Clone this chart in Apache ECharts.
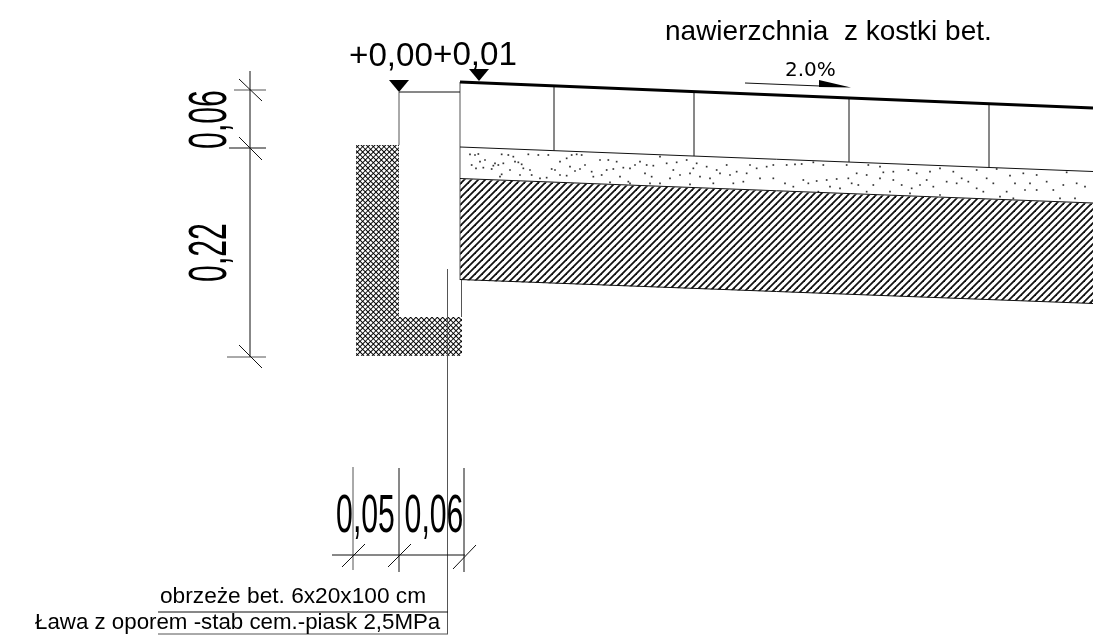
<!DOCTYPE html>
<html><head><meta charset="utf-8">
<script src="https://cdn.jsdelivr.net/npm/echarts@6/dist/echarts.min.js"></script>
<style>html,body{margin:0;padding:0;background:#fff}#c{width:1093px;height:636px}</style>
</head><body><div id="c"></div>
<script>
// drawing values, in drawing units
const thinSegments = [
  [399,92,460,92],[554,86,554,150.6],[694,92,694,156],[849,98,849,162],[989,104,989,167.5],
  [460,147,1093,171.5],[460,178.5,1093,203],[460,279.5,1093,303.5],
  [250,71,250,357],[229,148,266,148],[239,137,262,160],[239,79,262,101],[239,345,262,368],
  [332,555,465,555],[399,468,399,572],[464,468,464,572],
  [342,567,365,544],[388,567,411,544],[453,569,476,545],
  [158,612,448,612],[745,83,820,86]
];
const graySegments = [
  [399,92,399,145],[460,82,460,280],[461.5,280,461.5,317],[447.5,269,447.5,634],
  [353,467,353,570],[234,90,266,90],[227,357,266,357],[158,634,448,634]
];
const surfaceLine = [[460,82,1093,108]];
const triangles = [
  [[389,80],[409,80],[399,92]],
  [[469,69],[489,69],[479,81]],
  [[819,80],[851,87.5],[819,87]]
];
const concreteOutline = [[356,145],[399,145],[399,317],[462,317],[462,356],[356,356]];
const gravelBand = [[460,179],[1093,203.5],[1093,303.5],[460,280]];

const plainTexts = ['nawierzchnia  z kostki bet.','+0,00','+0,01','obrzeże bet. 6x20x100 cm','Ława z oporem -stab cem.-piask 2,5MPa'];
const plainTextAt = [[665,32],[349,57],[433,56],[160,597],[35,623]];
const plainTextSize = [28,33.2,33.2,22.7,22.3];
const slopeText = ['2.0%'];
const slopeTextAt = [[785,71]];
const narrowTexts = ['0,05','0,06','0,06','0,22'];
const narrowTextAt = [[365.5,517,0],[434,517,0],[211,119.5,1],[211,252.5,1]];

// sand speckles, left and right part of the band
const sandDotsLeft = [[30,28],[45,30],[55,27],[75,45],[35,60],[48,70],[70,68],[95,72],[100,62],[115,60],[130,55],[150,75],[125,88],[120,95],[165,50],[175,52],[185,58],[190,70],[210,75],[215,90],[240,100],[260,98],[275,72],[285,75],[300,50],[320,40],[335,30],[350,28],[365,30],[330,65],[345,78],[375,60],[395,80],[400,95],[425,90],[440,75],[460,72],[470,50],[490,68],[510,70],[525,60],[540,50],[480,95],[505,110],[560,60],[580,62],[600,35],[620,55],[650,52],[680,45],[710,55],[740,65],[575,95],[630,100],[660,90],[690,85],[720,95],[750,100],[780,85],[830,80],[800,60],[870,60],[890,70],[920,65],[940,60],[940,100],[900,100],[850,110],[820,115],[760,115],[690,118],[600,115],[570,115],[510,115],[450,112],[205,28],[235,30],[265,30],[125,28],[145,30],[160,35],[60,50],[105,55],[180,90],[300,90],[320,92],[360,72],[420,45],[445,45],[555,85],[640,75],[700,70],[770,75],[810,90],[860,85]];
const sandDotsRight = [[20,30],[45,28],[65,27],[100,22],[130,30],[200,30],[230,55],[260,60],[265,30],[300,35],[310,52],[340,50],[385,45],[410,55],[450,50],[480,40],[520,50],[590,45],[650,42],[690,62],[730,55],[770,60],[860,52],[15,85],[70,75],[85,85],[110,78],[140,75],[170,72],[205,70],[235,90],[280,90],[340,75],[365,90],[395,100],[440,75],[460,95],[500,80],[530,85],[565,80],[620,70],[640,85],[705,85],[735,105],[770,105],[820,105],[850,90],[890,85],[915,95],[610,110],[660,125],[700,130],[480,120],[390,115],[330,110],[260,110],[180,100],[115,110],[840,130],[885,130],[40,95],[150,95],[215,85],[300,70],[420,90],[545,70],[590,100],[680,110],[750,85],[800,80]];

function tile(w,h,draw){const c=document.createElement('canvas');c.width=w;c.height=h;draw(c.getContext('2d'));return {image:c,repeat:'repeat'};}
const crossTile = tile(16,16,g=>{
  g.fillStyle='#000';g.fillRect(0,0,16,16);
  g.fillStyle='#fff';
  const p=16/3,r=2;
  for(let i=-1;i<5;i++)for(let j=-1;j<5;j++)[[0,0],[p/2,p/2]].forEach(o=>{
    const x=i*p+o[0],y=j*p+o[1];
    g.beginPath();g.moveTo(x-r,y);g.lineTo(x,y-r);g.lineTo(x+r,y);g.lineTo(x,y+r);g.closePath();g.fill();
  });
});
const hatchTile = tile(7,7,g=>{
  g.fillStyle='#fff';g.fillRect(0,0,7,7);
  g.strokeStyle='#111';g.lineWidth=1.8;
  [[-7,7,7,-7],[0,7,7,0],[0,14,14,0]].forEach(s=>{g.beginPath();g.moveTo(s[0],s[1]);g.lineTo(s[2],s[3]);g.stroke();});
});

function polygonSeries(points,fill,stroke){
  return {type:'custom',coordinateSystem:'cartesian2d',silent:true,data:[[0,0]],
    renderItem:(p,api)=>({type:'polygon',shape:{points:points.map(q=>api.coord(q))},
      style:{fill:fill,stroke:stroke||null,lineWidth:1}})};
}
function segmentSeries(list,color,width){
  return {type:'custom',coordinateSystem:'cartesian2d',silent:true,data:list,
    renderItem:(p,api)=>{
      const a=api.coord([api.value(0),api.value(1)]),b=api.coord([api.value(2),api.value(3)]);
      return {type:'line',shape:{x1:a[0],y1:a[1],x2:b[0],y2:b[1]},style:{stroke:color,lineWidth:width}};
    }};
}
function textSeries(texts,at,font,sizes,align){
  return {type:'custom',coordinateSystem:'cartesian2d',silent:true,data:at.map(q=>[q[0],q[1]]),
    renderItem:(p,api)=>{
      const a=api.coord([api.value(0),api.value(1)]);
      return {type:'text',x:a[0],y:a[1],style:{text:texts[p.dataIndex],fill:'#000',
        font:sizes[p.dataIndex]+'px '+font,textAlign:align,textVerticalAlign:'middle'}};
    }};
}
const narrowSeries = {type:'custom',coordinateSystem:'cartesian2d',silent:true,data:narrowTextAt,
  renderItem:(p,api)=>{
    const a=api.coord([api.value(0),api.value(1)]);
    return {type:'text',x:a[0],y:a[1],scaleX:0.56,rotation:api.value(2)?Math.PI/2:0,
      style:{text:narrowTexts[p.dataIndex],fill:'#000',font:'54px "Liberation Sans"',textAlign:'center',textVerticalAlign:'middle'}};
  }};
function dotSeries(list,ox,oy){
  return {type:'scatter',silent:true,symbol:'rect',symbolSize:1.7,itemStyle:{color:'#000'},
    data:list.map(d=>[ox+d[0]/3,oy+d[1]/3])};
}

const chart = echarts.init(document.getElementById('c'),null,{renderer:'canvas'});
chart.setOption({
  animation:false,backgroundColor:'#fff',
  grid:{left:0,right:0,top:0,bottom:0},
  xAxis:{type:'value',min:0,max:1093,show:false},
  yAxis:{type:'value',min:0,max:636,inverse:true,show:false},
  series:[
    dotSeries(sandDotsLeft,460,145),
    dotSeries(sandDotsRight,780,155),
    polygonSeries(gravelBand,hatchTile),
    polygonSeries(concreteOutline,crossTile),
    segmentSeries(graySegments,'#555',1),
    segmentSeries(thinSegments,'#111',1),
    segmentSeries(surfaceLine,'#000',3),
    ...triangles.map(t=>polygonSeries(t,'#000')),
    textSeries(plainTexts,plainTextAt,'"Liberation Sans"',plainTextSize,'left'),
    textSeries(slopeText,slopeTextAt,'"DejaVu Sans"',[20],'left'),
    narrowSeries
  ]
});
</script></body></html>
